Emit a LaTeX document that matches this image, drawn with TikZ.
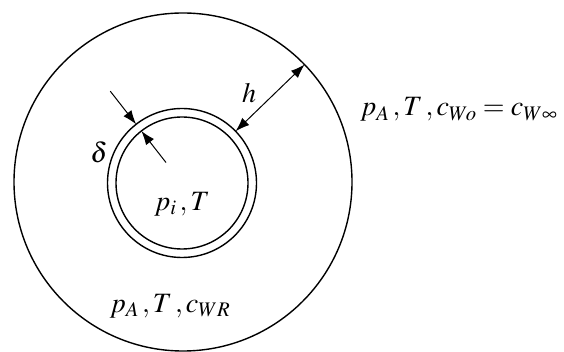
\documentclass[tikz,border=0pt]{standalone}
\usepackage{mathptmx}
\usetikzlibrary{arrows.meta, positioning}

\begin{document}
\begin{tikzpicture}[
  x=1pt, y=-1pt,
  wall/.style={circle, draw, line width=1.4pt, inner sep=0pt, outer sep=0pt},
  dim/.style={{Latex[length=14pt,width=10pt]}-{Latex[length=14pt,width=10pt]}, line width=1pt},
  ptr/.style={-{Latex[length=14pt,width=10pt]}, line width=1pt},
  lbl/.style={font=\fontsize{28}{34}\selectfont, inner sep=0pt}
]
  \useasboundingbox[fill=white] (0,0) rectangle (564,352);

  % drop and surrounding layer
  \node[wall, minimum size=338pt] (outer) at (183,182) {};
  \node[wall, minimum size=149pt] (film) at (182,183) {};
  \node[wall, minimum size=132pt] (core) at (182,183) {};

  % thickness marks
  \draw[dim] (film.44) -- (outer.44);
  \node[lbl] (h) at (249,93) {$h$};
  \coordinate (dout) at ([shift={(128:42pt)}]film.128);
  \coordinate (din) at ([shift={(-52:40pt)}]core.128);
  \draw[ptr] (dout) -- (film.128);
  \draw[ptr] (din) -- (core.128);
  \node[lbl] (delta) at (99,152) {$\delta$};

  % states
  \node[lbl] (inside) at (182,204) {$p_i\,,T$};
  \node[lbl] (shell) at (170,306) {$p_A\,,T\,,c_{WR}$};
  \node[lbl, anchor=base west] (far) at (360,116) {$p_A\,,T\,,c_{Wo}=c_{W\infty}$};
\end{tikzpicture}
\end{document}
